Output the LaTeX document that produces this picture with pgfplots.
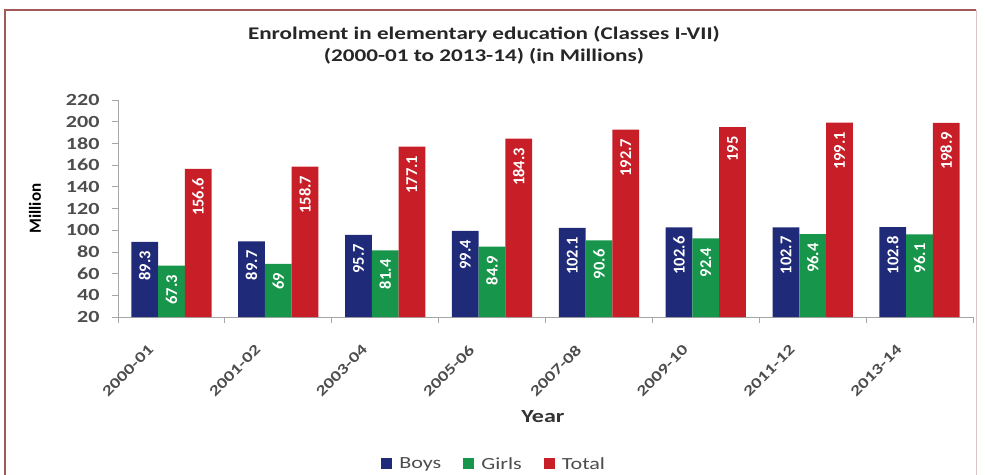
\documentclass[border=0pt]{standalone}
\usepackage{pgfplots}
\pgfplotsset{compat=1.18}
\usepackage{fontspec}
\setmainfont{Carlito}
\newfontfamily\widefont[FakeStretch=1.3]{Carlito}
\definecolor{boys}{HTML}{1F2A78}
\definecolor{girls}{HTML}{17954B}
\definecolor{total}{HTML}{C81E28}
\definecolor{axisgrey}{HTML}{A6A6A6}
\definecolor{ticktext}{HTML}{4D4D4D}
\definecolor{framecol}{HTML}{A05A5A}
\begin{document}
\begin{tikzpicture}[x=1pt,y=1pt]
\path[use as bounding box] (0,0) rectangle (985,474);
\draw[framecol, line width=1.2pt] (5,-5) -- (5,464) -- (976,464);
\draw[framecol!35, line width=1pt] (976,464) -- (976,-5);
\begin{axis}[
  at={(118pt,157pt)}, anchor=south west, scale only axis,
  width=855pt, height=217pt,
  xmin=-0.5, xmax=7.5, ymin=20, ymax=220,
  axis lines*=left,
  axis line style={axisgrey, line width=0.8pt},
  ytick={20,40,...,220},
  xtick={0,...,7},
  xticklabels={2000-01,2001-02,2003-04,2005-06,2007-08,2009-10,2011-12,2013-14},
  minor xtick={-0.5,0.5,...,7.5},
  tick align=outside,
  major tick length=6pt, minor tick length=6pt,
  tick style={axisgrey, line width=0.8pt},
  major x tick style={draw=none},
  /pgf/number format/assume math mode=true,
  yticklabel style={xshift=-9pt, font=\widefont\bfseries\fontsize{17}{17}\selectfont, text=ticktext},
  xticklabel style={xshift=-24pt, yshift=-16pt, rotate=45, anchor=north east, font=\widefont\bfseries\fontsize{15}{15}\selectfont, text=ticktext},
  ybar=0pt, bar width=0.25,
  nodes near coords,
  nodes near coords style={rotate=90, anchor=east, text=white, font=\bfseries\fontsize{16.5}{16.5}\selectfont, inner xsep=9pt, inner ysep=0pt},
  legend columns=3,
  legend style={draw=none, at={(axis description cs:0.44,-0.677)}, anchor=center,
    font=\widefont\fontsize{17}{17}\selectfont, text=ticktext,
    /tikz/every odd column/.append style={column sep=5pt},
    /tikz/every even column/.append style={column sep=20pt}},
  legend image code/.code={\fill[#1] (0pt,-5.5pt) rectangle (11pt,5.5pt);},
  title={Enrolment in elementary education (Classes I-VII)\\(2000-01 to 2013-14) (in Millions)},
  title style={at={(axis description cs:0.428,1.33)}, anchor=north, align=center,
    font=\widefont\bfseries\fontsize{17.8}{22}\selectfont, text=black!85},
  ylabel=Million,
  ylabel style={at={(axis description cs:-0.097,0.5)}, anchor=center, font=\bfseries\fontsize{17}{17}\selectfont},
  xlabel=Year,
  xlabel style={at={(axis description cs:0.497,-0.46)}, anchor=center, font=\widefont\bfseries\fontsize{18.5}{18.5}\selectfont, text=black!80},
]
\addplot[fill=boys, draw=none] coordinates {(0,89.3) (1,89.7) (2,95.7) (3,99.4) (4,102.1) (5,102.6) (6,102.7) (7,102.8)};
\addplot[fill=girls, draw=none] coordinates {(0,67.3) (1,69) (2,81.4) (3,84.9) (4,90.6) (5,92.4) (6,96.4) (7,96.1)};
\addplot[fill=total, draw=none] coordinates {(0,156.6) (1,158.7) (2,177.1) (3,184.3) (4,192.7) (5,195) (6,199.1) (7,198.9)};
\legend{Boys,Girls,Total}
\end{axis}
\end{tikzpicture}
\end{document}
